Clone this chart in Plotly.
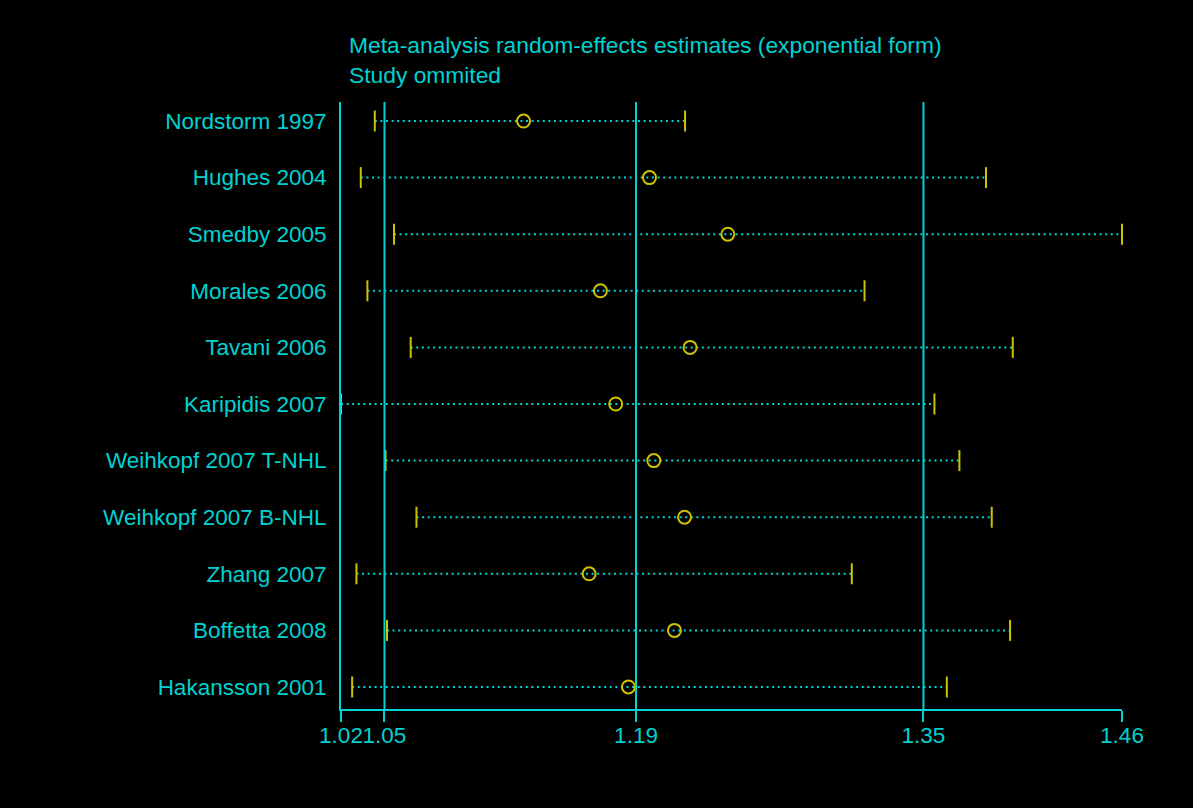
import plotly.graph_objects as go

studies = ["Nordstorm 1997", "Hughes 2004", "Smedby 2005", "Morales 2006", "Tavani 2006",
           "Karipidis 2007", "Weihkopf 2007 T-NHL", "Weihkopf 2007 B-NHL", "Zhang 2007",
           "Boffetta 2008", "Hakansson 2001"]
estimate = [1.1274, 1.1975, 1.2411, 1.1702, 1.2201, 1.1787, 1.1999, 1.2170, 1.1639, 1.2114, 1.1858]
lower = [1.0446, 1.0368, 1.0553, 1.0405, 1.0646, 1.0258, 1.0506, 1.0678, 1.0344, 1.0514, 1.0320]
upper = [1.2173, 1.3848, 1.4605, 1.3172, 1.3997, 1.3561, 1.3700, 1.3880, 1.3101, 1.3982, 1.3630]
overall = [1.05, 1.19, 1.35]
tick_values = [1.0258, 1.05, 1.19, 1.35, 1.4605]
tick_labels = ["1.02", "1.05", "1.19", "1.35", "1.46"]
title_lines = ["Meta-analysis random-effects estimates (exponential form)", "Study ommited"]

CYAN = "rgb(0,210,210)"
YEL = "rgb(205,195,0)"
FONT = "Arial, Liberation Sans, sans-serif"

rows = list(range(1, len(studies) + 1))

fig = go.Figure()

# dotted CI lines
xs, ys = [], []
for lo, hi, r in zip(lower, upper, rows):
    xs += [lo, hi, None]
    ys += [r, r, None]
fig.add_trace(go.Scatter(x=xs, y=ys, mode="lines",
                         line=dict(color=CYAN, width=2, dash="2px,3.6px"),
                         hoverinfo="skip", showlegend=False))

# reference lines (overall estimate and CI)
for v in overall:
    fig.add_shape(type="line", x0=v, x1=v, xref="x", y0=0, y1=1, yref="paper",
                  line=dict(color=CYAN, width=2), layer="above")

# CI caps
fig.add_trace(go.Scatter(x=lower + upper, y=rows + rows, mode="markers",
                         marker=dict(symbol="line-ns", size=15, color=YEL,
                                     line=dict(color=YEL, width=2)),
                         cliponaxis=False, showlegend=False))
# estimates
fig.add_trace(go.Scatter(x=estimate, y=rows, mode="markers",
                         marker=dict(symbol="circle-open", size=13, color=YEL,
                                     line=dict(color=YEL, width=2)),
                         cliponaxis=False, showlegend=False))

for i, t in enumerate(title_lines):
    fig.add_annotation(text=t, xref="paper", yref="paper", x=0.0073,
                       y=1.0945 - i * 0.0500, xanchor="left", yanchor="middle",
                       showarrow=False, font=dict(family=FONT, size=22.8, color=CYAN))

fig.update_layout(
    width=1193, height=808,
    paper_bgcolor="black", plot_bgcolor="black",
    margin=dict(l=341, r=71, t=102, b=99),
    font=dict(family=FONT, size=22.5, color=CYAN),
    xaxis=dict(range=[tick_values[0], tick_values[-1]], tickvals=tick_values,
               ticktext=tick_labels, tickangle=0, showgrid=False, zeroline=False,
               showline=True, linecolor=CYAN, linewidth=2,
               ticks="outside", ticklen=11, tickwidth=2, tickcolor=CYAN,
               ticklabelstandoff=-6,
               tickfont=dict(family=FONT, size=22.5, color=CYAN)),
    yaxis=dict(range=[11.389, 0.664], tickvals=rows, ticktext=studies,
               showgrid=False, zeroline=False, showline=True, linecolor=CYAN,
               linewidth=2, ticks="", ticklabelstandoff=8,
               tickfont=dict(family=FONT, size=22.5, color=CYAN)),
)

fig.write_html("out.html")
